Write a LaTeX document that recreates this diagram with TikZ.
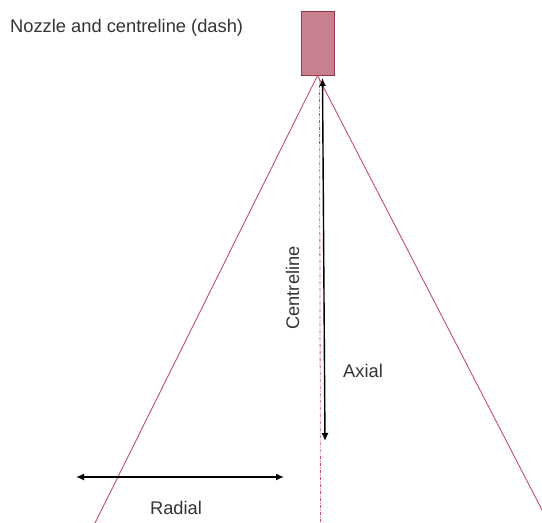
\documentclass[tikz,border=0pt]{standalone}
\usepackage{fontspec}
\setmainfont{Liberation Sans}
\usetikzlibrary{arrows.meta}
\definecolor{nozfill}{RGB}{200,128,142}
\definecolor{nozdraw}{RGB}{150,52,72}
\definecolor{spray}{RGB}{192,82,100}
\begin{document}
\begin{tikzpicture}[x=1pt,y=-1pt,
  lbl/.style={font=\fontsize{18.3}{21}\selectfont, text=black!80, inner sep=0pt},
  sprayline/.style={draw=spray, line width=0.9pt},
  cline/.style={draw=spray, line width=0.8pt, dash pattern=on 3pt off 1.5pt on 1pt off 1.5pt},
  dimarrow/.style={draw=black, line width=1.4pt, {Latex[length=8pt,width=7pt]}-{Latex[length=8pt,width=7pt]}}]
\useasboundingbox (0,0) rectangle (542,523);
\node[draw=nozdraw, fill=nozfill, line width=1pt, minimum width=33pt, minimum height=64pt, inner sep=0pt] (noz) at (317.5,43) {};
\coordinate (lend) at (95,523);
\coordinate (rend) at (542,510);
\coordinate (ctop) at (319.5,78);
\coordinate (cbot) at (320.5,523);
\coordinate (atop) at (322.5,78);
\coordinate (abot) at (325,441);
\coordinate (rl) at (76,477);
\coordinate (rr) at (284,477);
\draw[sprayline] (noz.south) -- (lend);
\draw[sprayline] (noz.south) -- (rend);
\draw[cline] (ctop) -- (cbot);
\draw[dimarrow] (atop) -- (abot);
\draw[dimarrow] (rl) -- (rr);
\node[lbl, anchor=base west] (title) at (10,32) {Nozzle and centreline (dash)};
\node[lbl, anchor=base] (radial) at (176,514) {Radial};
\node[lbl, anchor=base west] (axial) at (343,377) {Axial};
\node[lbl, anchor=base, rotate=90] (centre) at (299,288) {Centreline};
\end{tikzpicture}
\end{document}
